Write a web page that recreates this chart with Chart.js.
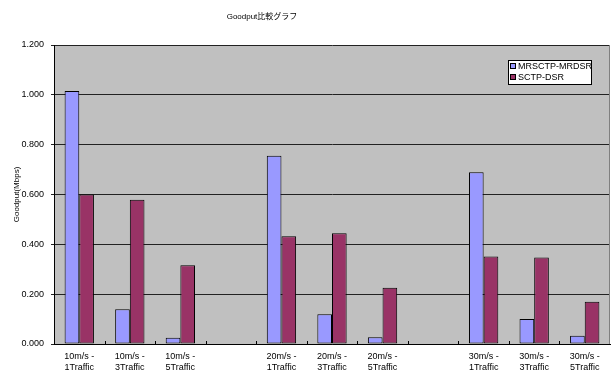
<!DOCTYPE html>
<html>
<head>
<meta charset="utf-8">
<script src="https://cdn.jsdelivr.net/npm/chart.js@4/dist/chart.umd.min.js"></script>
<style>
  html, body { margin: 0; padding: 0; background: #fff; }
  #wrap { width: 611px; height: 370px; }
</style>
</head>
<body>
<div id="wrap"><canvas id="goodputChart" width="611" height="370"></canvas></div>
<script>
const chartTitle = "Goodput比較グラフ";
const yTitle = "Goodput(Mbps)";

// empty strings are the blank slots between the speed groups
const categories = [
  ["10m/s -", "1Traffic"], ["10m/s -", "3Traffic"], ["10m/s -", "5Traffic"],
  "",
  ["20m/s -", "1Traffic"], ["20m/s -", "3Traffic"], ["20m/s -", "5Traffic"],
  "",
  ["30m/s -", "1Traffic"], ["30m/s -", "3Traffic"], ["30m/s -", "5Traffic"],
];

const mrsctpMrdsr = [1.015, 0.139, 0.025, null, 0.756, 0.119, 0.027, null, 0.689, 0.100, 0.033];
const sctpDsr = [0.600, 0.579, 0.316, null, 0.432, 0.444, 0.226, null, 0.351, 0.347, 0.170];

const yMin = 0;
const yMax = 1.2;
const yStep = 0.2;

const FONT = "'Liberation Sans', Arial, 'Noto Sans CJK JP', sans-serif";

// gray plot area, right border, inward category ticks, title and boxed legend
const excelLook = {
  id: "excelLook",
  beforeDraw(chart) {
    const { ctx, chartArea: a } = chart;
    ctx.save();
    ctx.fillStyle = "#c0c0c0";
    ctx.fillRect(a.left, a.top, a.right - a.left, a.bottom - a.top);
    ctx.restore();
  },
  afterDatasetsDraw(chart) {
    const { ctx, chartArea: a, scales } = chart;
    const x = scales.x;
    ctx.save();
    ctx.strokeStyle = "#808080";
    ctx.lineWidth = 1;
    ctx.beginPath();
    ctx.moveTo(a.right - 0.5, a.top);
    ctx.lineTo(a.right - 0.5, a.bottom);
    ctx.stroke();

    const step = x.getPixelForValue(1) - x.getPixelForValue(0);
    ctx.strokeStyle = "#000";
    ctx.beginPath();
    for (let i = 1; i < categories.length; i++) {
      const px = Math.round(x.getPixelForValue(i) - step / 2) + 0.5;
      ctx.moveTo(px, a.bottom - 3);
      ctx.lineTo(px, a.bottom);
    }
    ctx.stroke();

    // title
    ctx.fillStyle = "#000";
    ctx.font = "8px " + FONT;
    ctx.textAlign = "center";
    ctx.textBaseline = "middle";
    ctx.fillText(chartTitle, 262, 17);

    // legend
    const lx = a.right - 102, ly = a.top + 15, lw = 83, lh = 24;
    ctx.fillStyle = "#fff";
    ctx.fillRect(lx, ly, lw, lh);
    ctx.strokeStyle = "#000";
    ctx.strokeRect(lx + 0.5, ly + 0.5, lw, lh);
    ctx.font = "9px " + FONT;
    ctx.textAlign = "left";
    chart.data.datasets.forEach((ds, i) => {
      const cy = ly + 6 + i * 11;
      ctx.fillStyle = ds.backgroundColor;
      ctx.fillRect(lx + 2, cy - 3, 6, 6);
      ctx.strokeStyle = "#000";
      ctx.strokeRect(lx + 2.5, cy - 2.5, 5, 5);
      ctx.fillStyle = "#000";
      ctx.fillText(ds.label, lx + 10, cy + 0.5);
    });
    ctx.restore();
  },
};

new Chart(document.getElementById("goodputChart"), {
  type: "bar",
  data: {
    labels: categories,
    datasets: [
      {
        label: "MRSCTP-MRDSR",
        data: mrsctpMrdsr,
        backgroundColor: "#9999ff",
        borderColor: "#000",
        borderWidth: 1,
        borderSkipped: false,
      },
      {
        label: "SCTP-DSR",
        data: sctpDsr,
        backgroundColor: "#993366",
        borderColor: "#000",
        borderWidth: 1,
        borderSkipped: false,
      },
    ],
  },
  options: {
    responsive: false,
    animation: false,
    categoryPercentage: 0.58,
    barPercentage: 1.0,
    layout: { padding: { top: 45, right: 1, left: 0, bottom: 0 } },
    plugins: {
      legend: { display: false },
      title: { display: false },
      tooltip: { enabled: false },
    },
    scales: {
      x: {
        grid: { display: false, drawTicks: false },
        border: { display: true, color: "#000", width: 1 },
        ticks: {
          color: "#000",
          padding: 7,
          maxRotation: 0,
          autoSkip: false,
          font: { family: FONT, size: 9, lineHeight: 1.2 },
        },
        afterFit(scale) { scale.height = 26; },
      },
      y: {
        min: yMin,
        max: yMax,
        ticks: {
          stepSize: yStep,
          color: "#000",
          padding: 7,
          font: { family: FONT, size: 9 },
          callback: (v) => Number(v).toFixed(3),
        },
        grid: { color: "#222", tickLength: 3, drawTicks: true },
        border: { display: true, color: "#000", width: 1 },
        title: {
          display: true,
          text: yTitle,
          color: "#000",
          padding: { top: 12 },
          font: { family: FONT, size: 8 },
        },
        afterFit(scale) { scale.width = 54; },
      },
    },
  },
  plugins: [excelLook],
});
</script>
</body>
</html>
